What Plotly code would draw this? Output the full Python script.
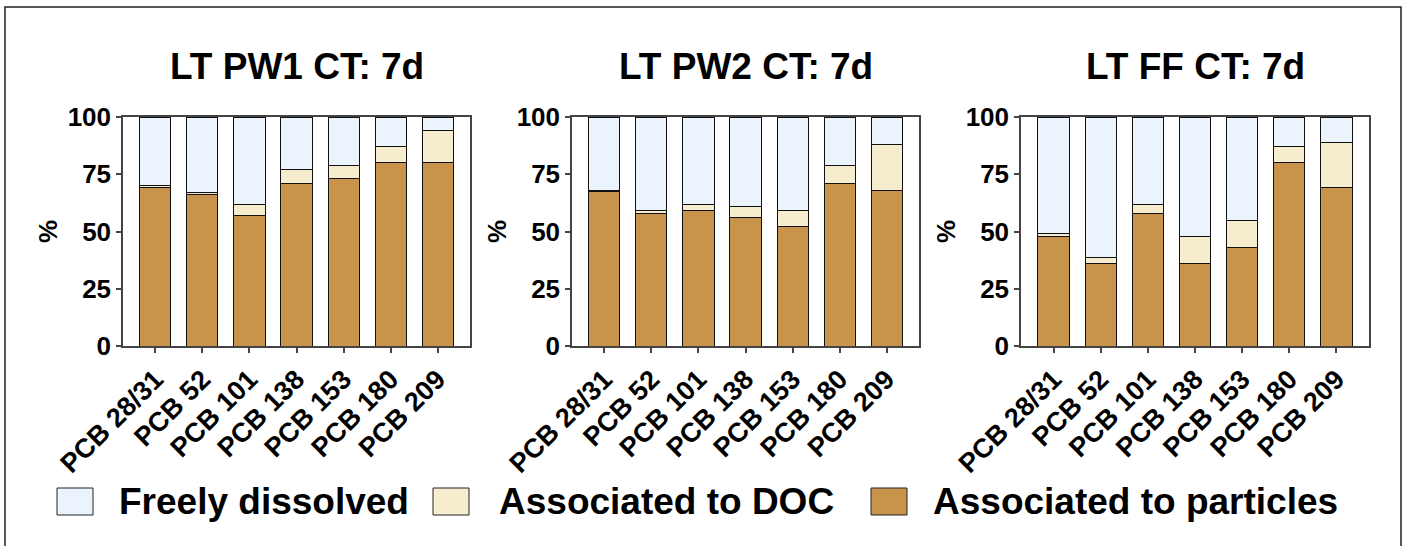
import plotly.graph_objects as go

categories = ["PCB 28/31", "PCB 52", "PCB 101", "PCB 138", "PCB 153", "PCB 180", "PCB 209"]
panel_titles = ["LT PW1 CT: 7d", "LT PW2 CT: 7d", "LT FF CT: 7d"]
series_names = ["Freely dissolved", "Associated to DOC", "Associated to particles"]

pw1_particles = [69, 66, 57, 71, 73, 80, 80]
pw1_doc = [1, 1, 5, 6, 6, 7, 14]
pw1_free = [30, 33, 38, 23, 21, 13, 6]

pw2_particles = [67.5, 58, 59, 56, 52, 71, 68]
pw2_doc = [0.5, 1, 3, 5, 7, 8, 20]
pw2_free = [32, 41, 38, 39, 41, 21, 12]

ff_particles = [48, 36, 58, 36, 43, 80, 69]
ff_doc = [1, 2.5, 4, 12, 12, 7, 20]
ff_free = [51, 61.5, 38, 52, 45, 13, 11]

y_ticks = [0, 25, 50, 75, 100]

panels = [
    (pw1_particles, pw1_doc, pw1_free),
    (pw2_particles, pw2_doc, pw2_free),
    (ff_particles, ff_doc, ff_free),
]

colors = {"Freely dissolved": "#EBF3FC", "Associated to DOC": "#F6EDCF", "Associated to particles": "#C8944C"}
FONT = "Liberation Sans, Arial, sans-serif"
W, H = 1407, 546

fig = go.Figure()
x_px = [(123, 470), (572, 919), (1021, 1369)]
y_dom = [(H - 346) / H, (H - 117) / H]

for i, (part, doc, free) in enumerate(panels):
    xa = "x" if i == 0 else f"x{i+1}"
    ya = "y" if i == 0 else f"y{i+1}"
    for name, vals in [("Associated to particles", part), ("Associated to DOC", doc), ("Freely dissolved", free)]:
        fig.add_trace(go.Bar(
            x=categories, y=vals, name=name, xaxis=xa, yaxis=ya,
            marker=dict(color=colors[name], line=dict(color="#111111", width=1)),
            showlegend=False, hoverinfo="x+y+name",
        ))
    sfx = "" if i == 0 else str(i + 1)
    fig.layout["xaxis" + sfx] = dict(
        domain=[x_px[i][0] / W, x_px[i][1] / W], anchor=ya, automargin=False,
        range=[-0.69, 6.69], showline=True, linecolor="#444444", linewidth=1.5,
        mirror=True, ticks="outside", ticklen=5, tickcolor="#444444", tickwidth=1.5,
        tickangle=-45, tickfont=dict(family=FONT, size=27, color="black", weight="bold"),
        showgrid=False, zeroline=False, fixedrange=True,
    )
    fig.layout["yaxis" + sfx] = dict(
        domain=y_dom, anchor=xa, range=[0, 100], tickvals=y_ticks, automargin=False,
        showline=True, linecolor="#444444", linewidth=1.5, mirror=True,
        ticks="outside", ticklen=5, tickcolor="#444444", tickwidth=1.5,
        tickfont=dict(family=FONT, size=26, color="black", weight="bold"),
        title=dict(text="%", font=dict(family=FONT, size=26, color="black", weight="bold"), standoff=3),
        showgrid=False, zeroline=False, fixedrange=True,
    )
    fig.add_annotation(
        x=(x_px[i][0] + x_px[i][1]) / 2 / W, y=(H - 66) / H, xref="paper", yref="paper",
        text=panel_titles[i], showarrow=False, xanchor="center", yanchor="middle",
        font=dict(family=FONT, size=37, color="black", weight="bold"),
    )

# legend drawn as boxes + labels
legend_box_x = [57, 433, 871]
legend_text_x = [117, 497, 931]
for bx, tx, name in zip(legend_box_x, legend_text_x, series_names):
    fig.add_shape(type="rect", xref="paper", yref="paper",
                  x0=bx / W, x1=(bx + 36) / W, y0=(H - 515) / H, y1=(H - 488) / H,
                  fillcolor=colors[name], line=dict(color="#222222", width=1))
    fig.add_annotation(x=tx / W, y=(H - 501) / H, xref="paper", yref="paper",
                       text=name, showarrow=False, xanchor="left", yanchor="middle",
                       font=dict(family=FONT, size=37, color="black", weight="bold"))

# outer frame
fig.add_shape(type="rect", xref="paper", yref="paper",
              x0=5 / W, x1=1401 / W, y0=-0.05, y1=(H - 7) / H,
              line=dict(color="#222222", width=1.5), fillcolor="rgba(0,0,0,0)")

fig.update_layout(
    width=W, height=H, barmode="stack", bargap=0.34,
    margin=dict(l=0, r=0, t=0, b=0, autoexpand=False),
    paper_bgcolor="white", plot_bgcolor="white",
    font=dict(family=FONT, color="black"),
)

fig.write_html("out.html", config={"displayModeBar": False})
